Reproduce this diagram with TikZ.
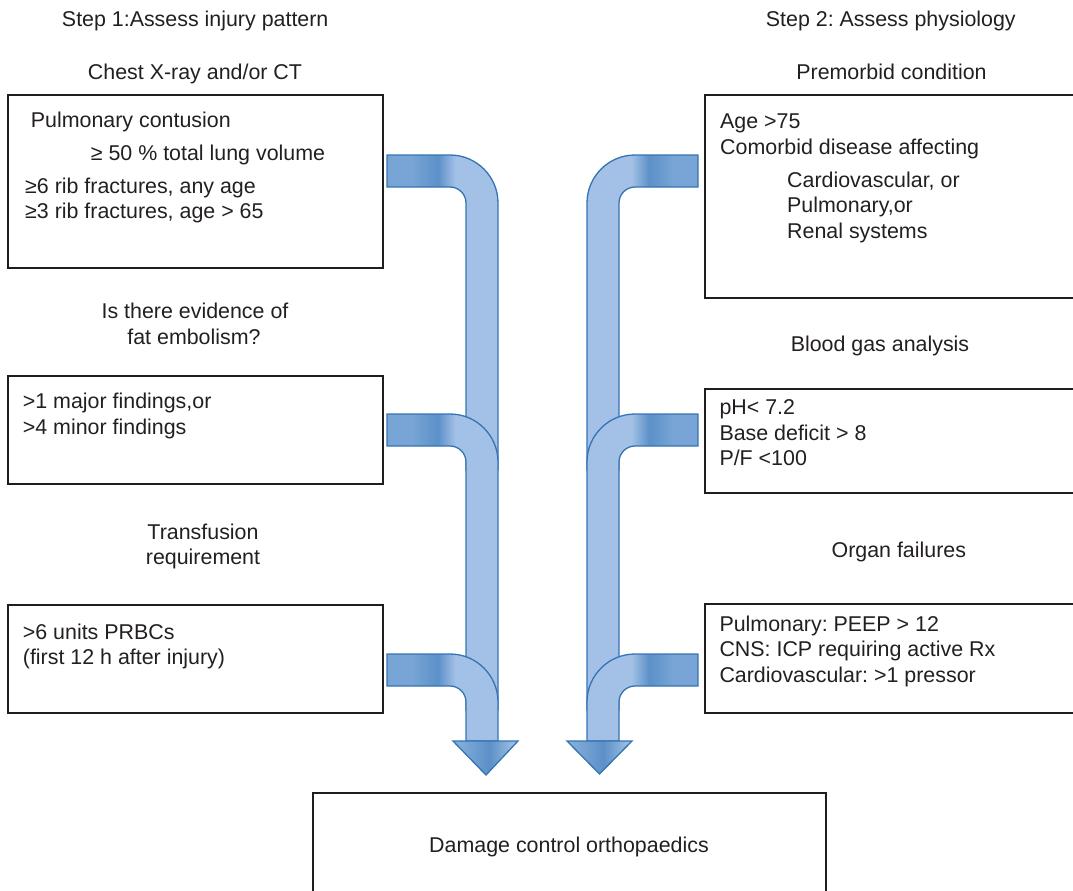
\documentclass[tikz,border=0pt]{standalone}
\usepackage{fontspec}
\setmainfont{Liberation Sans}
\definecolor{txt}{HTML}{231F20}
\definecolor{boxline}{HTML}{1E1E1E}
\definecolor{aline}{HTML}{3474B3}
\definecolor{alight}{HTML}{A3C1E6}
\definecolor{amid}{HTML}{78A5D5}
\definecolor{adark}{HTML}{5C90C8}
\definecolor{hleft}{HTML}{8AB2DD}
\definecolor{hright}{HTML}{A9C6E8}
\pgfdeclarehorizontalshading{barL}{100bp}{color(0bp)=(amid); color(25bp)=(amid); color(36bp)=(amid); color(48bp)=(adark); color(56bp)=(alight); color(100bp)=(alight)}
\pgfdeclarehorizontalshading{barR}{100bp}{color(0bp)=(alight); color(45bp)=(alight); color(53bp)=(adark); color(64bp)=(amid); color(75bp)=(amid); color(100bp)=(amid)}
\pgfdeclarehorizontalshading{headshade}{100bp}{color(0bp)=(hleft); color(25bp)=(hleft); color(53bp)=(adark); color(75bp)=(hright); color(100bp)=(hright)}
\newcommand{\bendleft}[2]{%
  \path[bendLstyle] (387,#1) -- (450,#1) .. controls (476.5,#1) and (498,{#1+21.5}) .. (498,{#1+48})
    -- (498,#2) -- (466,#2) -- (466,{#1+48})
    .. controls (466,{#1+39.2}) and (458.8,{#1+32}) .. (450,{#1+32}) -- (387,{#1+32}) -- cycle;}
\newcommand{\bendright}[2]{%
  \path[bendRstyle] (698,#1) -- (635,#1) .. controls (608.5,#1) and (587,{#1+21.5}) .. (587,{#1+48})
    -- (587,#2) -- (619,#2) -- (619,{#1+48})
    .. controls (619,{#1+39.2}) and (626.2,{#1+32}) .. (635,{#1+32}) -- (698,{#1+32}) -- cycle;}
\frenchspacing
\begin{document}
\begin{tikzpicture}[x=1pt,y=-1pt,
  every node/.style={font=\frenchspacing\fontsize{21.4}{25}\selectfont, text=txt, inner sep=0pt},
  box/.style={draw=boxline, line width=2pt, inner sep=0pt},
  lbl/.style={anchor=base},
  ln/.style={anchor=base west},
  bendLstyle/.style={draw=aline, line width=1.3pt, shade, shading=barL},
  bendRstyle/.style={draw=aline, line width=1.3pt, shade, shading=barR},
  headstyle/.style={draw=aline, line width=1.3pt, shade, shading=headshade}]
\useasboundingbox (0,0) rectangle (1073,891);
% titles
\node[lbl] (t1) at (195.2,27) {Step 1:Assess injury pattern};
\node[lbl] (t2) at (890.8,27) {Step 2: Assess physiology};
\node[lbl] (h1) at (195,80) {Chest X-ray and/or CT};
\node[lbl] (h2) at (891.5,80) {Premorbid condition};
\node[lbl] (h3a) at (195,318.5) {Is there evidence of};
\node[lbl] (h3b) at (194,344.3) {fat embolism?};
\node[lbl] (h4) at (880,351.7) {Blood gas analysis};
\node[lbl] (h5a) at (203,539.3) {Transfusion};
\node[lbl] (h5b) at (203,564.8) {requirement};
\node[lbl] (h6) at (898.8,557.5) {Organ failures};
% boxes
\node[box, minimum width=375pt, minimum height=173pt] (lb1) at (195.5,181.5) {};
\node[box, minimum width=375pt, minimum height=107.5pt] (lb2) at (195.5,429.75) {};
\node[box, minimum width=375pt, minimum height=108pt] (lb3) at (195.5,659) {};
\node[box, minimum width=375pt, minimum height=203pt] (rb1) at (892.5,196.5) {};
\node[box, minimum width=375pt, minimum height=104pt] (rb2) at (892.5,441) {};
\node[box, minimum width=375pt, minimum height=109pt] (rb3) at (892.5,658.5) {};
\node[box, minimum width=513pt, minimum height=112pt] (fb) at (569.5,849) {};
% box texts
\node[ln] (l1a) at (30.7,127.8) {Pulmonary contusion};
\node[ln] (l1b) at (90.7,160.7) {≥ 50 \% total lung volume};
\node[ln] (l1c) at (25,193) {≥6 rib fractures, any age};
\node[ln] (l1d) at (25,218) {≥3 rib fractures, age > 65};
\node[ln] (l2a) at (22.7,408.3) {>1 major findings,or};
\node[ln] (l2b) at (22.7,434) {>4 minor findings};
\node[ln] (l3a) at (22.7,639) {>6 units PRBCs};
\node[ln] (l3b) at (22.7,664) {(first 12 h after injury)};
\node[ln] (r1a) at (720,128.3) {Age >75};
\node[ln] (r1b) at (720,154.5) {Comorbid disease affecting};
\node[ln] (r1c) at (787,187.3) {Cardiovascular, or};
\node[ln] (r1d) at (787,212.5) {Pulmonary,or};
\node[ln] (r1e) at (787,238) {Renal systems};
\node[ln] (r2a) at (719.3,414) {pH< 7.2};
\node[ln] (r2b) at (719.3,440) {Base deficit > 8};
\node[ln] (r2c) at (719.3,465.3) {P/F <100};
\node[ln] (r3a) at (719.3,631.5) {Pulmonary: PEEP > 12};
\node[ln] (r3b) at (719.3,656.5) {CNS: ICP requiring active Rx};
\node[ln] (r3c) at (719.3,682) {Cardiovascular: >1 pressor};
\node[lbl] (fbt) at (569,852.3) {Damage control orthopaedics};
% left arrow
\bendleft{155}{470}
\bendleft{414}{710}
\bendleft{654}{741}
\path[headstyle] (453,741) -- (518,741) -- (486,775) -- cycle;
% right arrow
\bendright{155}{470}
\bendright{414}{710}
\bendright{654}{741}
\path[headstyle] (567,741) -- (632,741) -- (599.5,774) -- cycle;
\end{tikzpicture}
\end{document}
